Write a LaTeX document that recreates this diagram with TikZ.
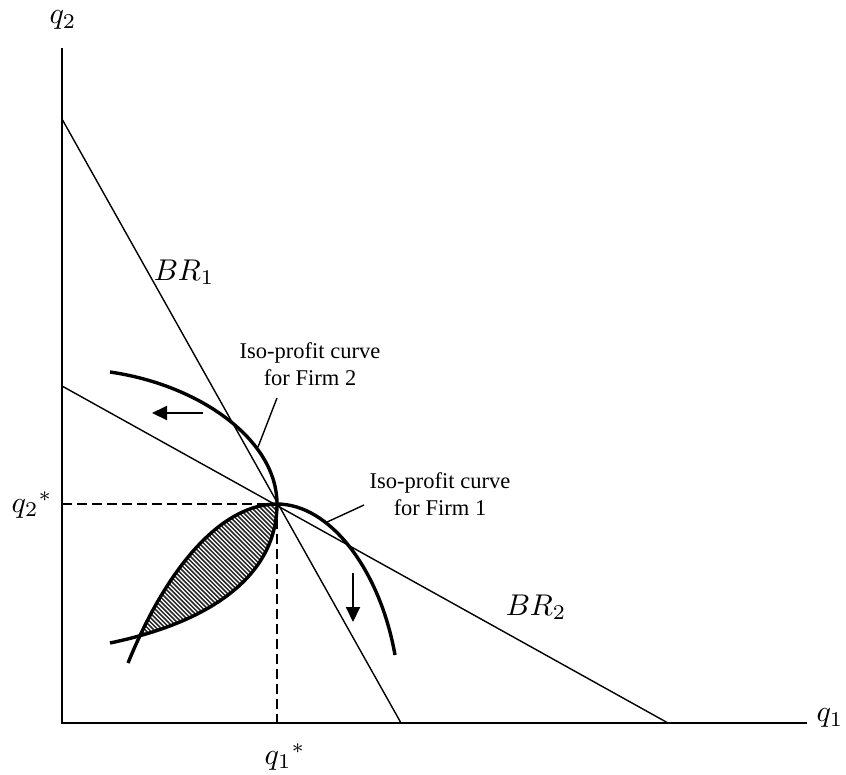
\documentclass[tikz,border=0pt]{standalone}
\usepackage{fontspec}
\setmainfont{Liberation Serif}
\usetikzlibrary{arrows.meta}
\begin{document}
\begin{tikzpicture}[x=1pt,y=-1pt,
  thinline/.style={line width=1.4pt},
  thickcurve/.style={line width=3.4pt},
  axisline/.style={line width=1.8pt},
  guide/.style={line width=1.5pt, dash pattern=on 10pt off 5pt},
  hatchline/.style={line width=1.5pt, black!85},
  lbl/.style={font=\fontsize{22.5}{27}\selectfont, align=center, inner sep=0pt},
  mlbl/.style={scale=3, inner sep=0pt},
  arr/.style={line width=2pt, -{Triangle[length=15pt,width=14pt]}}]
\useasboundingbox (0,0) rectangle (846,774);

% key points
\coordinate (O) at (62,723);
\coordinate (Ytop) at (62,48);
\coordinate (Xend) at (807,723);
\coordinate (E) at (277,504);
\coordinate (B1a) at (62,119);
\coordinate (B1b) at (401,723);
\coordinate (B2a) at (62,386);
\coordinate (B2b) at (668,723);
\coordinate (Q2) at (62,504);
\coordinate (Q1) at (277,723);
\coordinate (A0) at (110,372);
\coordinate (A1) at (110,643);
\coordinate (C0) at (128,663);
\coordinate (C1) at (395,655);

% hatched lens
\begin{scope}
  \clip (E) .. controls (225,504) and (170,560) .. (C0) -- (128,800) -- (420,800) -- (420,504) -- cycle;
  \clip (E) .. controls (277,570) and (220,620) .. (A1) -- (40,643) -- (40,480) -- (277,480) -- cycle;
  \foreach \c in {-520,-515.6,...,-200}
    \draw[hatchline] (\c+300,300) -- (\c+800,800);
\end{scope}

% axes
\draw[axisline] (Ytop) -- (O) -- (Xend);

% best responses
\draw[thinline] (B1a) -- (B1b);
\draw[thinline] (B2a) -- (B2b);

% guides
\draw[guide] (Q2) -- (E);
\draw[guide] (E) -- (Q1);

% iso-profit curves
\draw[thickcurve] (A0) .. controls (200,385) and (277,440) .. (E)
  .. controls (277,570) and (220,620) .. (A1);
\draw[thickcurve] (C0) .. controls (170,560) and (225,504) .. (E)
  .. controls (330,504) and (380,570) .. (C1);

% arrows
\coordinate (ar1s) at (203,413);
\coordinate (ar1e) at (152,413);
\coordinate (ar2s) at (353,573);
\coordinate (ar2e) at (353,622);
\draw[arr] (ar1s) -- (ar1e);
\draw[arr] (ar2s) -- (ar2e);

% labels
\node[mlbl] (lq2) at (63,20) {$q_2$};
\node[mlbl] (lq1) at (830,718) {$q_1$};
\node[mlbl] (lq2s) at (32,505) {${q_2}^*$};
\node[mlbl] (lq1s) at (285,757) {${q_1}^*$};
\node[mlbl] (lbr1) at (184,272) {$BR_1$};
\node[mlbl] (lbr2) at (536,607) {$BR_2$};

\node[lbl] (f2) at (310,364) {Iso-profit curve\\for Firm 2};
\node[lbl] (f1) at (440,494) {Iso-profit curve\\for Firm 1};

\coordinate (l2a) at (277,398);
\coordinate (l2b) at (258,447);
\coordinate (l1a) at (364,505);
\coordinate (l1b) at (325,523);
\draw[thinline] (l2a) -- (l2b);
\draw[thinline] (l1a) -- (l1b);
\end{tikzpicture}
\end{document}
